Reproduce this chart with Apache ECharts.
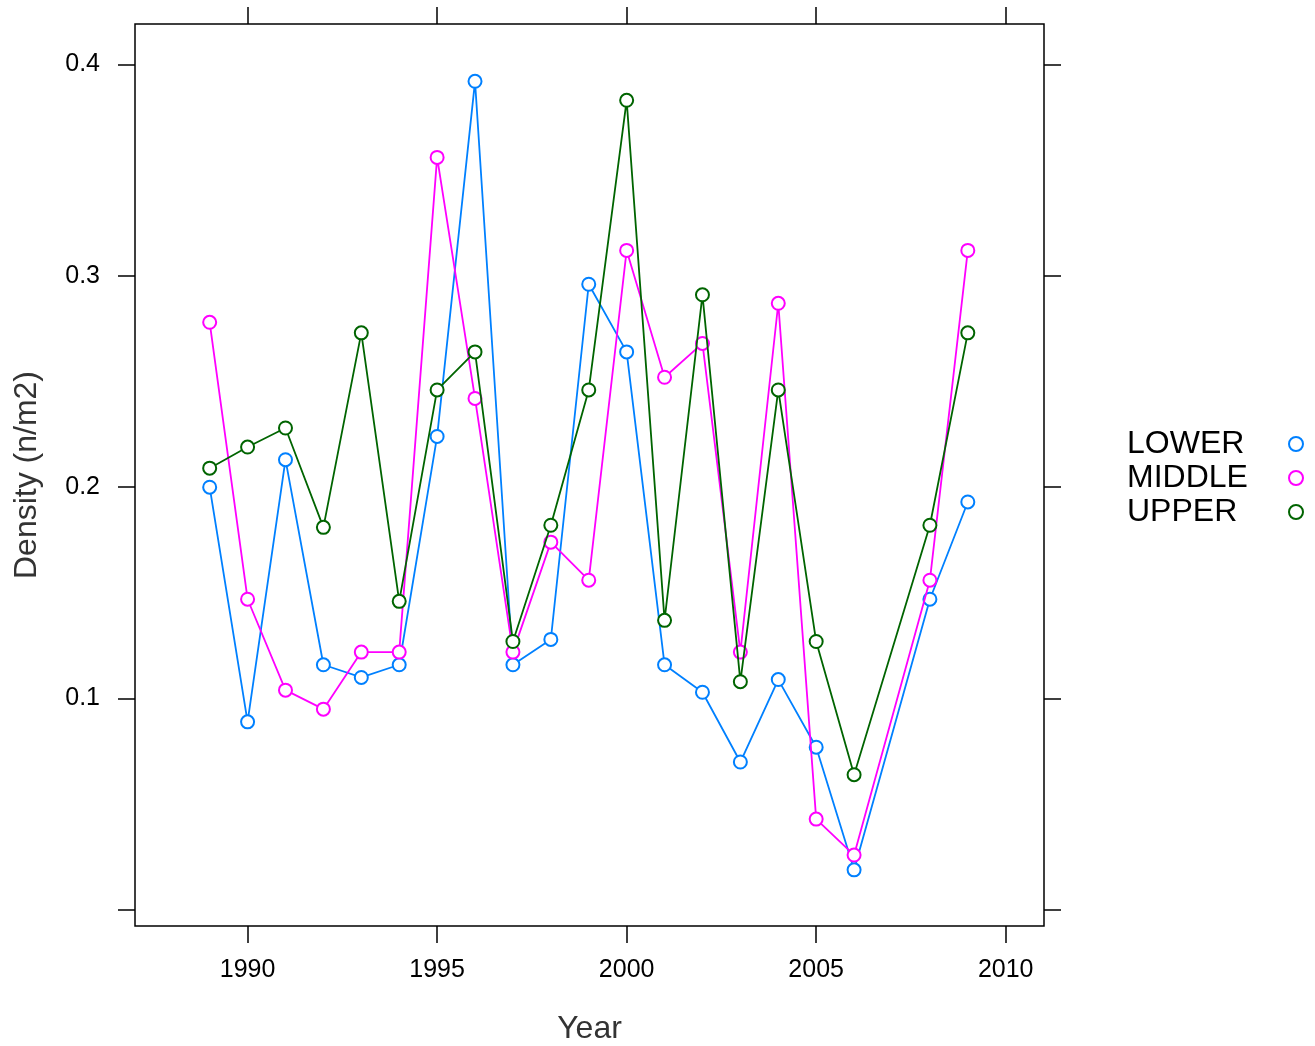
<!DOCTYPE html>
<html>
<head>
<meta charset="utf-8">
<script src="https://cdn.jsdelivr.net/npm/echarts@6/dist/echarts.min.js"></script>
<style>
  html, body { margin: 0; padding: 0; background: #fff; }
  #chart { width: 1315px; height: 1046px; }
</style>
</head>
<body>
<div id="chart"></div>
<script>
// ---- data ----
const years = [1989, 1990, 1991, 1992, 1993, 1994, 1995, 1996, 1997, 1998, 1999, 2000, 2001, 2002, 2003, 2004, 2005, 2006, 2008, 2009];
const lowerValues  = [0.200, 0.089, 0.213, 0.116, 0.110, 0.116, 0.224, 0.392, 0.116, 0.128, 0.296, 0.264, 0.116, 0.103, 0.070, 0.109, 0.077, 0.019, 0.147, 0.193];
const middleValues = [0.278, 0.147, 0.104, 0.095, 0.122, 0.122, 0.356, 0.242, 0.122, 0.174, 0.156, 0.312, 0.252, 0.268, 0.122, 0.287, 0.043, 0.026, 0.156, 0.312];
const upperValues  = [0.209, 0.219, 0.228, 0.181, 0.273, 0.146, 0.246, 0.264, 0.127, 0.182, 0.246, 0.383, 0.137, 0.291, 0.108, 0.246, 0.127, 0.064, 0.182, 0.273];
const seriesNames = ['LOWER', 'MIDDLE', 'UPPER'];
const seriesColors = ['#0080ff', '#ff00ff', '#006400'];
const xTickValues = [1990, 1995, 2000, 2005, 2010];
const yTickValues = [0, 0.1, 0.2, 0.3, 0.4];
const yLabelValues = [0.1, 0.2, 0.3, 0.4];

const FONT = '"Liberation Sans", Arial, sans-serif';

function pairs(vals) { return years.map((y, i) => [y, vals[i]]); }
const allValues = [lowerValues, middleValues, upperValues];

const chart = echarts.init(document.getElementById('chart'), null, { renderer: 'canvas' });

const xBase = {
  type: 'value', min: 1987.03, max: 2011.01,
  axisLine: { show: false, onZero: false },
  splitLine: { show: false },
  axisTick: { show: true, inside: false, length: 17, customValues: xTickValues, lineStyle: { color: '#000', width: 1.5 } }
};
const yBase = {
  type: 'value', min: -0.00757, max: 0.4191,
  axisLine: { show: false, onZero: false },
  splitLine: { show: false },
  axisTick: { show: true, inside: false, length: 17, customValues: yTickValues, lineStyle: { color: '#000', width: 1.5 } }
};

const option = {
  backgroundColor: '#fff',
  animation: false,
  grid: {
    left: 135, right: 271, top: 24, bottom: 120,
    outerBoundsMode: 'none',
    containLabel: false,
    show: true, borderColor: '#000', borderWidth: 1.5, backgroundColor: 'transparent'
  },
  legend: {
    orient: 'vertical',
    right: 6, top: 423,
    align: 'right',
    itemWidth: 14, itemHeight: 14,
    itemGap: 2,
    icon: 'emptyCircle',
    formatter: name => '{n|' + name + '}',
    textStyle: {
      fontFamily: FONT, fontSize: 32, color: '#000',
      rich: { n: { fontFamily: FONT, fontSize: 32, color: '#000', width: 157, align: 'left', lineHeight: 34 } }
    },
    data: seriesNames.map((n, i) => ({
      name: n,
      itemStyle: { color: seriesColors[i], borderColor: seriesColors[i], borderWidth: 1.5 }
    }))
  },
  xAxis: [
    Object.assign({}, xBase, {
      position: 'bottom',
      name: 'Year', nameLocation: 'middle', nameGap: 87,
      nameTextStyle: { fontFamily: FONT, fontSize: 32, color: '#333' },
      axisLabel: { show: true, customValues: xTickValues, margin: 32, fontFamily: FONT, fontSize: 25, color: '#000',
        formatter: v => String(Math.round(v)) }
    }),
    Object.assign({}, xBase, {
      position: 'top',
      axisLabel: { show: false }
    })
  ],
  yAxis: [
    Object.assign({}, yBase, {
      position: 'left',
      name: 'Density (n/m2)', nameLocation: 'middle', nameGap: 92, nameRotate: 90,
      nameTextStyle: { fontFamily: FONT, fontSize: 32, color: '#333' },
      axisLabel: { show: true, customValues: yLabelValues, margin: 35, fontFamily: FONT, fontSize: 25, color: '#000',
        formatter: v => v.toFixed(1) }
    }),
    Object.assign({}, yBase, {
      position: 'right',
      axisLabel: { show: false }
    })
  ],
  series: seriesNames.map((n, i) => ({
    name: n,
    type: 'line',
    xAxisIndex: 0, yAxisIndex: 0,
    data: pairs(allValues[i]),
    symbol: 'emptyCircle',
    symbolSize: 13,
    showAllSymbol: true,
    color: seriesColors[i],
    lineStyle: { color: seriesColors[i], width: 1.8 },
    itemStyle: { color: seriesColors[i], borderColor: seriesColors[i], borderWidth: 1.6 },
    emphasis: { disabled: true },
    z: 2 + i
  }))
};
chart.setOption(option);
</script>
</body>
</html>
